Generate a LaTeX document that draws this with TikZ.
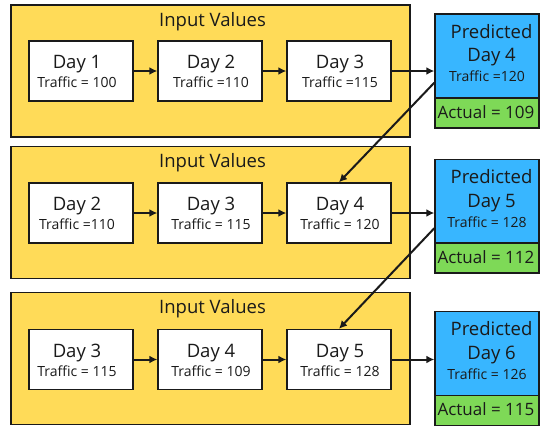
\documentclass[tikz,border=0pt]{standalone}
\usepackage{fontspec}
\setmainfont{Open Sans}
\usetikzlibrary{arrows.meta,calc}
\definecolor{panelyellow}{HTML}{FFDB58}
\definecolor{predblue}{HTML}{38B6FF}
\definecolor{actgreen}{HTML}{7ED957}
\definecolor{ink}{HTML}{1A1A1A}
\begin{document}
\begin{tikzpicture}[x=1pt,y=-1pt,
 panel/.style={draw=ink,line width=1.4pt,fill=panelyellow,minimum width=399pt,minimum height=132pt,inner sep=0pt},
 daybox/.style={draw=ink,line width=1.4pt,fill=white,minimum width=104pt,minimum height=60pt,inner sep=0pt},
 predbox/.style={draw=ink,line width=1.4pt,fill=predblue,minimum width=104pt,minimum height=84pt,inner sep=0pt},
 actbox/.style={draw=ink,line width=1.4pt,fill=actgreen,minimum width=104pt,minimum height=30pt,inner sep=0pt},
 bigtxt/.style={font=\fontsize{18.5}{22}\selectfont,text=ink,inner sep=0pt,anchor=base},
 traftxt/.style={font=\fontsize{14}{16}\selectfont,text=ink,inner sep=0pt,anchor=base},
 acttxt/.style={font=\fontsize{17}{20}\selectfont,text=ink,inner sep=0pt,anchor=base},
 link/.style={draw=ink,line width=2pt,-{Latex[length=8pt,width=8pt]}}
]
\useasboundingbox (0,0) rectangle (540,426);

% panels
\node[panel] (p1) at (210.5,71) {};
\node[panel] (p2) at (210.5,212.5) {};
\node[panel] (p3) at (210.5,358.5) {};
\node[bigtxt] (t1) at ($(p1.north)+(2,22)$) {Input Values};
\node[bigtxt] (t2) at ($(p2.north)+(2,22)$) {Input Values};
\node[bigtxt] (t3) at ($(p3.north)+(2,22)$) {Input Values};

% day boxes
\node[daybox] (d11) at (81,71) {};
\node[daybox] (d12) at (210,71) {};
\node[daybox] (d13) at (339,71) {};
\node[daybox] (d21) at (81,213) {};
\node[daybox] (d22) at (210,213) {};
\node[daybox] (d23) at (339,213) {};
\node[daybox] (d31) at (81,359.5) {};
\node[daybox] (d32) at (210,359.5) {};
\node[daybox] (d33) at (339,359.5) {};

\node[bigtxt] (l11) at ($(d11.center)+(-4,-2.5)$) {Day 1};
\node[traftxt] (r11) at ($(d11.center)+(-4,16.5)$) {Traffic = 100};
\node[bigtxt] (l12) at ($(d12.center)+(1,-2.5)$) {Day 2};
\node[traftxt] (r12) at ($(d12.center)+(1,16.5)$) {Traffic =110};
\node[bigtxt] (l13) at ($(d13.center)+(1,-2.5)$) {Day 3};
\node[traftxt] (r13) at ($(d13.center)+(1,16.5)$) {Traffic =115};

\node[bigtxt] (l21) at ($(d21.center)+(-4,-2.5)$) {Day 2};
\node[traftxt] (r21) at ($(d21.center)+(-4,16.5)$) {Traffic =110};
\node[bigtxt] (l22) at ($(d22.center)+(1,-2.5)$) {Day 3};
\node[traftxt] (r22) at ($(d22.center)+(1,16.5)$) {Traffic = 115};
\node[bigtxt] (l23) at ($(d23.center)+(1,-2.5)$) {Day 4};
\node[traftxt] (r23) at ($(d23.center)+(1,16.5)$) {Traffic = 120};

\node[bigtxt] (l31) at ($(d31.center)+(-4,-2.5)$) {Day 3};
\node[traftxt] (r31) at ($(d31.center)+(-4,16.5)$) {Traffic = 115};
\node[bigtxt] (l32) at ($(d32.center)+(1,-2.5)$) {Day 4};
\node[traftxt] (r32) at ($(d32.center)+(1,16.5)$) {Traffic = 109};
\node[bigtxt] (l33) at ($(d33.center)+(1,-2.5)$) {Day 5};
\node[traftxt] (r33) at ($(d33.center)+(1,16.5)$) {Traffic = 128};

% predicted boxes
\node[predbox] (q1) at (487,56) {};
\node[actbox] (a1) at (487,113) {};
\node[predbox] (q2) at (487,201.5) {};
\node[actbox] (a2) at (487,258) {};
\node[predbox] (q3) at (487,353.5) {};
\node[actbox] (a3) at (487,410.5) {};

\node[bigtxt] (m1) at ($(q1.north)+(4.5,25)$) {Predicted};
\node[bigtxt] (n1) at ($(q1.north)+(4.5,48.5)$) {Day 4};
\node[traftxt] (s1) at ($(q1.north)+(0,68.5)$) {Traffic =120};
\node[acttxt] (u1) at ($(a1.north)+(-1,21)$) {Actual = 109};

\node[bigtxt] (m2) at ($(q2.north)+(4.5,25)$) {Predicted};
\node[bigtxt] (n2) at ($(q2.north)+(4.5,48.5)$) {Day 5};
\node[traftxt] (s2) at ($(q2.north)+(0,68.5)$) {Traffic = 128};
\node[acttxt] (u2) at ($(a2.north)+(-1,21)$) {Actual = 112};

\node[bigtxt] (m3) at ($(q3.north)+(4.5,25)$) {Predicted};
\node[bigtxt] (n3) at ($(q3.north)+(4.5,48.5)$) {Day 6};
\node[traftxt] (s3) at ($(q3.north)+(0,68.5)$) {Traffic = 126};
\node[acttxt] (u3) at ($(a3.north)+(-1,21)$) {Actual = 115};

% connectors
\draw[link] (d11) -- (d12);
\draw[link] (d12) -- (d13);
\draw[link] (d13.east) -- (d13.east -| q1.west);
\draw[link] (d21) -- (d22);
\draw[link] (d22) -- (d23);
\draw[link] (d23.east) -- (d23.east -| q2.west);
\draw[link] (d31) -- (d32);
\draw[link] (d32) -- (d33);
\draw[link] (d33.east) -- (d33.east -| q3.west);
\draw[link] ([yshift=16pt]q1.south west) -- (d23.north);
\draw[link] ([yshift=16pt]q2.south west) -- (d33.north);
\end{tikzpicture}
\end{document}
